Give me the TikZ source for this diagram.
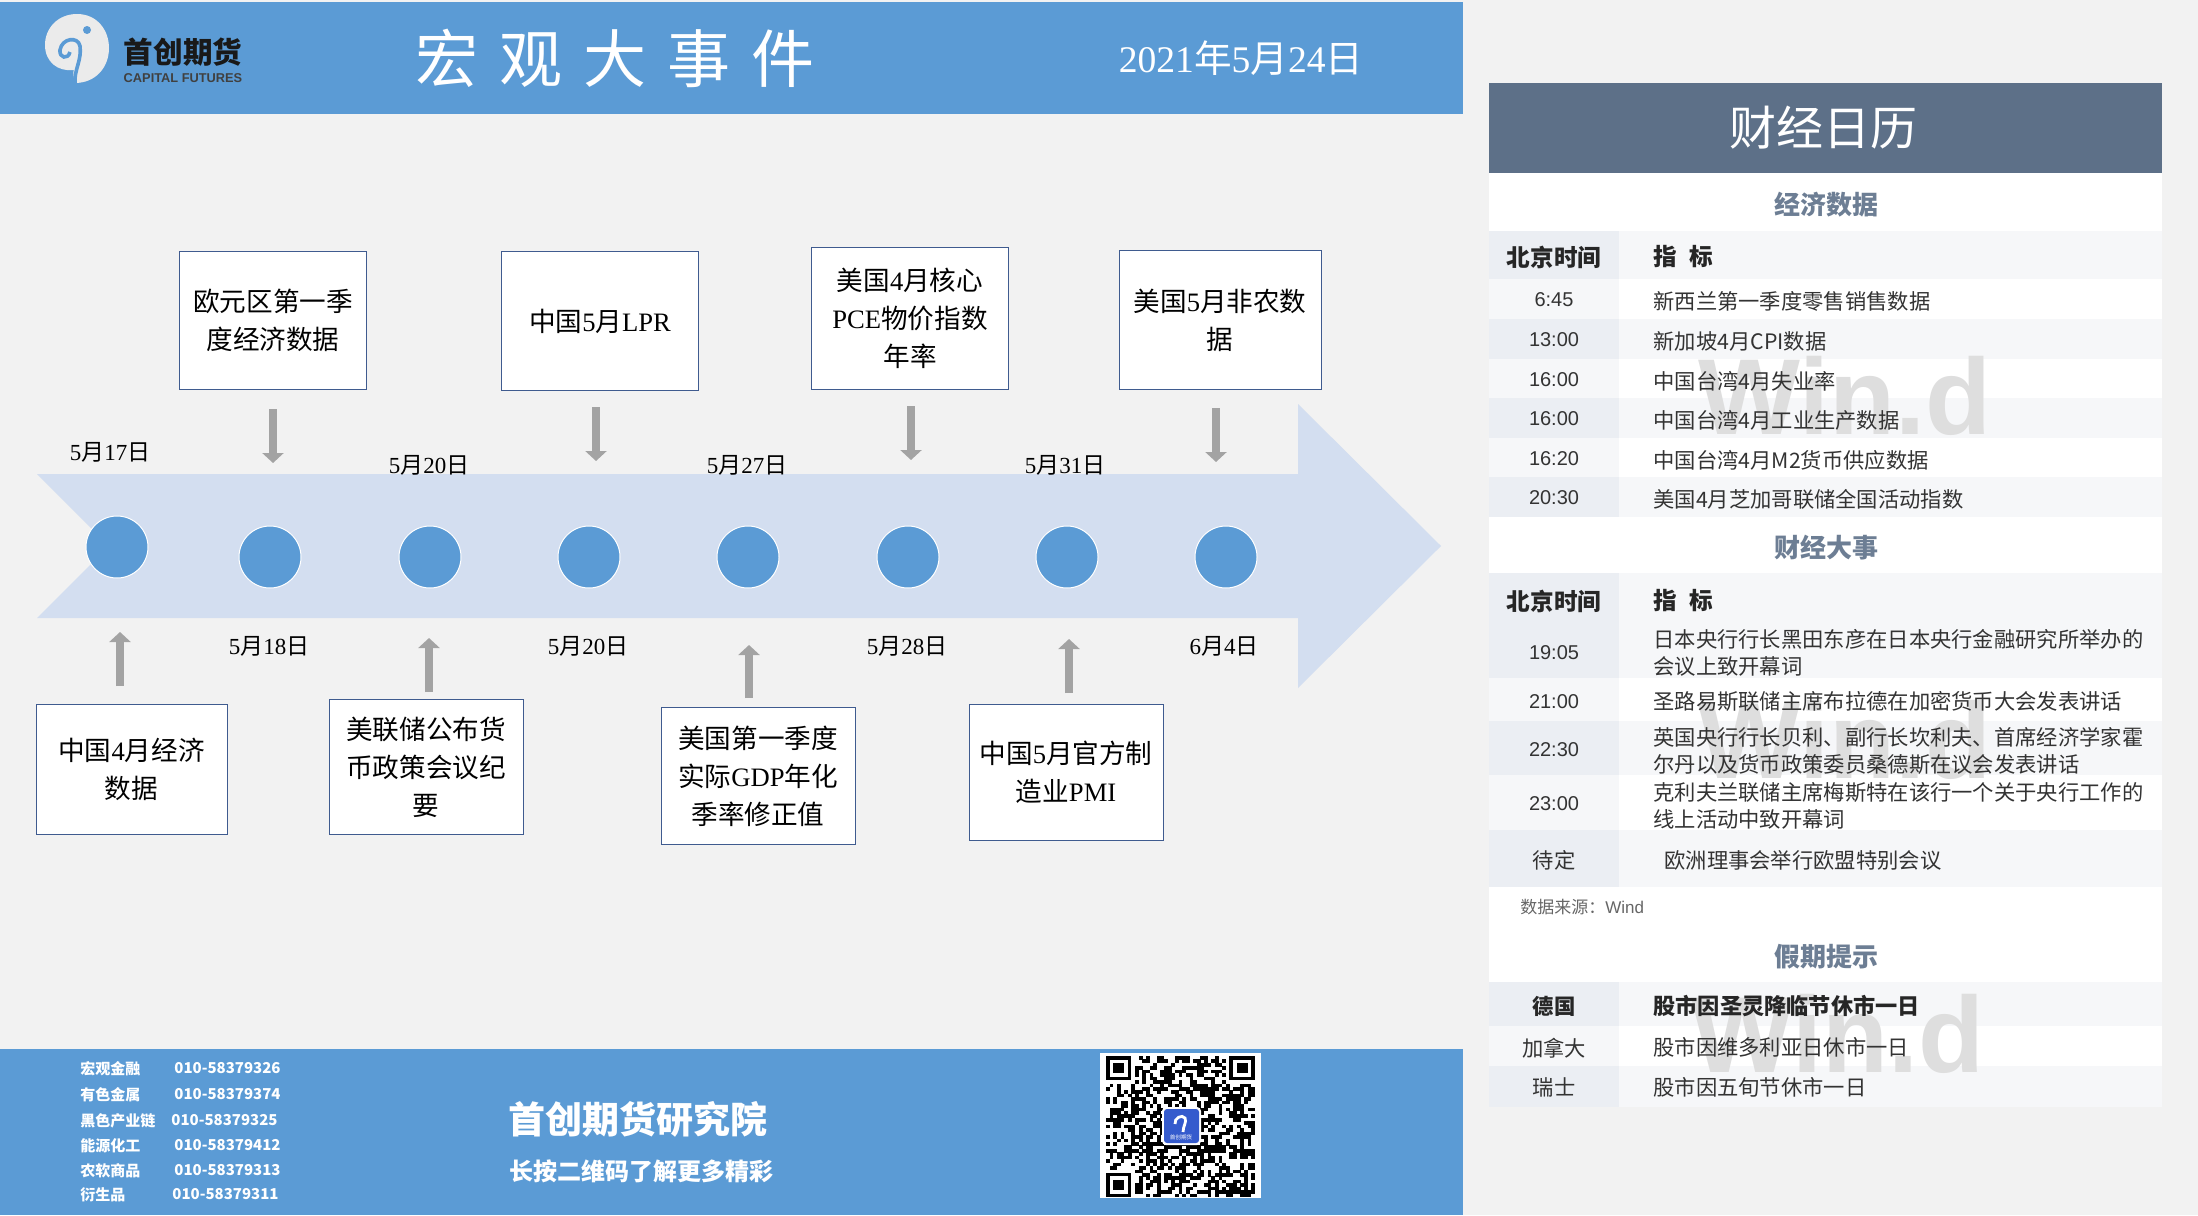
\documentclass[tikz,border=0pt]{standalone}
\usepackage{fontspec}
\usetikzlibrary{arrows.meta}
\setmainfont{Noto Sans CJK SC}
\newfontfamily\lat{Liberation Serif}
\newfontfamily\arial{Liberation Sans}
\newfontfamily\wide[LetterSpace=33]{Noto Sans CJK SC}
\definecolor{bannerblue}{HTML}{5B9BD5}
\definecolor{pagegrey}{HTML}{F2F2F2}
\definecolor{flowblue}{HTML}{D3DEF0}
\definecolor{boxline}{HTML}{3F5B8F}
\definecolor{slate}{HTML}{5D7088}
\definecolor{tintA}{HTML}{EBEEF3}
\definecolor{tintB}{HTML}{F6F7F9}
\definecolor{txt}{HTML}{333333}
\tikzset{
  eventbox/.style={draw=boxline,line width=0.5pt,fill=white,align=center,inner sep=0pt,font=\fontsize{13.3}{19}\selectfont},
  datelabel/.style={inner sep=0pt,font=\fontsize{11.5}{14}\selectfont},
  daydot/.style={circle,fill=bannerblue,draw=white,line width=0.5pt,minimum size=31pt,inner sep=0pt},
  pointer/.style={->,>={Triangle[length=5pt,width=10.5pt]},line width=4pt,draw=black!36,color=black!36},
  phone/.style={anchor=west,inner sep=0pt,text=white,font=\bfseries\fontsize{7.5}{9}\selectfont},
  heading/.style={inner sep=0pt,text=slate!90,font=\bfseries\fontsize{13}{15}\selectfont},
  timecell/.style={inner sep=0pt,text=txt,font=\arial\fontsize{10}{12}\selectfont},
  zhcell/.style={inner sep=0pt,text=txt,font=\fontsize{10.65}{13.5}\selectfont},
  itemcell/.style={anchor=west,align=left,inner sep=0pt,text=txt,font=\fontsize{10.65}{13.5}\selectfont},
  headcell/.style={inner sep=0pt,text=black!85,font=\bfseries\fontsize{11.8}{14}\selectfont},
  stamp/.style={inner sep=0pt,text=black!13,font=\arial\bfseries\fontsize{54}{54}\selectfont},
}
\begin{document}
\begin{tikzpicture}[x=0.5pt,y=-0.5pt]
\useasboundingbox (0,0) rectangle (2198,1215);
\fill[pagegrey] (0,0) rectangle (2198,1215);

% banners
\fill[bannerblue] (0,2) rectangle (1463,114);
\fill[bannerblue] (0,1049) rectangle (1463,1215);

% logo
\fill[black!8] (77,14) .. controls (97,14) and (109,30) .. (109,48) .. controls (109,68) and (95,83) .. (75,83) .. controls (73,76) and (73,72) .. (74,70) .. controls (58,72) and (45,62) .. (45,45) .. controls (45,28) and (58,14) .. (77,14) -- cycle;
\draw[bannerblue,line width=1.8pt] (75,83) .. controls (74,70) and (82,60) .. (80,46) .. controls (78,36) and (62,38) .. (60,50) .. controls (59,58) and (68,60) .. (70,52);
\fill[bannerblue] (87,30) circle (4);
\node[inner sep=0pt,text=black!90,font=\bfseries\fontsize{14.8}{16}\selectfont] (logoname) at (183,52) {首创期货};
\node[inner sep=0pt,text=black!75,font=\arial\bfseries\fontsize{6.4}{7}\selectfont] (logoen) at (183,78) {CAPITAL FUTURES};

\node[inner sep=0pt,text=white,font=\wide\fontsize{31.5}{33}\selectfont] (title) at (615,58) {宏观大事件};
\node[inner sep=0pt,text=white,font=\fontsize{18.8}{22}\selectfont] (today) at (1241,58) {{\lat 2021}年{\lat 5}月{\lat 24}日};

% flow arrow
\fill[flowblue] (37,474) -- (1298,474) -- (1298,404) -- (1441,546) -- (1298,688) -- (1298,618) -- (37,618) -- (109,546) -- cycle;

% days on the flow
\node[daydot] (D1) at (117,547) {};
\node[daydot] (D2) at (270,557) {};
\node[daydot] (D3) at (430,557) {};
\node[daydot] (D4) at (589,557) {};
\node[daydot] (D5) at (748,557) {};
\node[daydot] (D6) at (908,557) {};
\node[daydot] (D7) at (1067,557) {};
\node[daydot] (D8) at (1226,557) {};

\node[datelabel] (L1) at (110,452) {{\lat 5}月{\lat 17}日};
\node[datelabel] (L2) at (269,646) {{\lat 5}月{\lat 18}日};
\node[datelabel] (L3) at (429,465) {{\lat 5}月{\lat 20}日};
\node[datelabel] (L4) at (588,646) {{\lat 5}月{\lat 20}日};
\node[datelabel] (L5) at (747,465) {{\lat 5}月{\lat 27}日};
\node[datelabel] (L6) at (907,646) {{\lat 5}月{\lat 28}日};
\node[datelabel] (L7) at (1065,465) {{\lat 5}月{\lat 31}日};
\node[datelabel] (L8) at (1224,646) {{\lat 6}月{\lat 4}日};

% event boxes
\node[eventbox,minimum width=93.5pt,minimum height=69pt] (B1) at (273,320) {欧元区第一季\\度经济数据};
\node[eventbox,minimum width=98.5pt,minimum height=69.5pt] (B2) at (600,321) {中国{\lat 5}月{\lat LPR}};
\node[eventbox,minimum width=98.5pt,minimum height=71pt] (B3) at (910,318) {美国{\lat 4}月核心\\{\lat PCE}物价指数\\年率};
\node[eventbox,minimum width=101pt,minimum height=69.5pt] (B4) at (1220,320) {美国{\lat 5}月非农数\\据};
\node[eventbox,minimum width=95.5pt,minimum height=65pt] (B5) at (131.5,769) {中国{\lat 4}月经济\\数据};
\node[eventbox,minimum width=97pt,minimum height=67.5pt] (B6) at (426,767) {美联储公布货\\币政策会议纪\\要};
\node[eventbox,minimum width=97pt,minimum height=68.5pt] (B7) at (758,776) {美国第一季度\\实际{\lat GDP}年化\\季率修正值};
\node[eventbox,minimum width=97pt,minimum height=68pt] (B8) at (1066,772) {中国{\lat 5}月官方制\\造业{\lat PMI}};

% pointers between boxes and flow
\coordinate (P1a) at (273,409); \coordinate (P1b) at (273,463);
\coordinate (P2a) at (596,407); \coordinate (P2b) at (596,461);
\coordinate (P3a) at (911,406); \coordinate (P3b) at (911,460);
\coordinate (P4a) at (1216,408); \coordinate (P4b) at (1216,462);
\coordinate (P5a) at (120,686); \coordinate (P5b) at (120,632);
\coordinate (P6a) at (429,692); \coordinate (P6b) at (429,638);
\coordinate (P7a) at (749,698); \coordinate (P7b) at (749,645);
\coordinate (P8a) at (1069,693); \coordinate (P8b) at (1069,639);
\foreach \p in {1,...,8} \draw[pointer] (P\p a) -- (P\p b);

% footer
\node[phone] (C1) at (80,1069) {宏观金融};
\node[phone] (C2) at (80,1095) {有色金属};
\node[phone] (C3) at (80,1121) {黑色产业链};
\node[phone] (C4) at (80,1146) {能源化工};
\node[phone] (C5) at (80,1171) {农软商品};
\node[phone] (C6) at (80,1195) {衍生品};
\node[phone] (N1) at (174,1068) {010-58379326};
\node[phone] (N2) at (174,1094) {010-58379374};
\node[phone] (N3) at (171,1120) {010-58379325};
\node[phone] (N4) at (174,1145) {010-58379412};
\node[phone] (N5) at (174,1170) {010-58379313};
\node[phone] (N6) at (172,1194) {010-58379311};
\node[anchor=west,inner sep=0pt,text=white,font=\bfseries\fontsize{18.5}{21}\selectfont] (inst) at (508,1119) {首创期货研究院};
\node[anchor=west,inner sep=0pt,text=white,font=\bfseries\fontsize{12}{14}\selectfont] (scan) at (509,1171) {长按二维码了解更多精彩};

% qr code
\fill[white] (1100,1053) rectangle (1261,1198);
\pgfmathsetseed{41}
\begin{scope}[shift={(1106,1056)},x=1.815pt,y=-1.72pt]
\foreach \i in {0,...,40} \foreach \j in {0,...,40} {
  \pgfmathparse{int(rnd<0.5 || (\i<8 && \j<8) || (\i>32 && \j<8) || (\i<8 && \j>32) || (\i>15 && \i<26 && \j>14 && \j<25))}
  \ifnum\pgfmathresult=0 \fill[black] (\i,\j) rectangle ++(1.05,1.05); \fi
}
\foreach \fx/\fy in {0/0,34/0,0/34} {
  \draw[black,line width=1.8pt] (\fx+0.5,\fy+0.5) rectangle ++(6,6);
  \fill[black] (\fx+2,\fy+2) rectangle ++(3,3);
}
\end{scope}
\fill[white,rounded corners=2pt] (1162,1107) rectangle (1201,1145);
\fill[blue!35!bannerblue!90!black,rounded corners=1.5pt] (1164,1109) rectangle (1199,1143);
\draw[white,line width=1.4pt] (1183,1132) .. controls (1183,1126) and (1187,1122) .. (1185,1118) .. controls (1182,1114) and (1174,1118) .. (1175,1124);
\node[inner sep=0pt,text=white,font=\fontsize{2.8}{3}\selectfont] (qrlogo) at (1181,1137) {首创期货};

% calendar panel
\fill[white] (1488.5,173) rectangle (2162,1107);
\fill[slate] (1488.5,83) rectangle (2162,173);
\node[inner sep=0pt,text=white,font=\fontsize{23.5}{26}\selectfont] (calhead) at (1823,128) {财经日历};

% table stripes: top, bottom, first column colour, second column colour
\foreach \ya/\yb/\ca/\cb in {231/279.3/tintA/tintB,279.3/319/tintB/white,319/358.7/tintA/tintB,358.7/398.3/tintB/white,398.3/437.7/tintA/tintB,437.7/477.3/tintB/white,477.3/516.7/tintA/tintB,573/678.3/tintA/tintB,678.3/721/tintB/white,721/775/tintA/tintB,775/830/tintB/white,830/886.7/tintA/tintB,981.7/1026/tintA/tintB,1026/1065.7/tintB/white,1065.7/1106.7/tintA/tintB} {
  \fill[\ca] (1488.5,\ya) rectangle (1619,\yb);
  \fill[\cb] (1619,\ya) rectangle (2162,\yb);
}

\node[stamp] (W1) at (1845,396) {Win.d};
\node[stamp] (W2) at (1845,740) {Win.d};
\node[stamp] (W3) at (1838,1034) {Win.d};

% economic data
\node[heading] (H1) at (1826,205) {经济数据};
\node[headcell] (T1) at (1554,257) {北京时间};
\node[headcell,anchor=west] (I1) at (1653,257) {指\hspace{6pt}标};
\node[timecell] (T2) at (1554,300) {6:45};
\node[timecell] (T3) at (1554,340) {13:00};
\node[timecell] (T4) at (1554,380) {16:00};
\node[timecell] (T5) at (1554,419) {16:00};
\node[timecell] (T6) at (1554,459) {16:20};
\node[timecell] (T7) at (1554,498) {20:30};
\node[itemcell] (I2) at (1653,301.5) {新西兰第一季度零售销售数据};
\node[itemcell] (I3) at (1653,341.5) {新加坡{4}月CPI数据};
\node[itemcell] (I4) at (1653,381) {中国台湾{4}月失业率};
\node[itemcell] (I5) at (1653,420.5) {中国台湾{4}月工业生产数据};
\node[itemcell] (I6) at (1653,460) {中国台湾{4}月M2货币供应数据};
\node[itemcell] (I7) at (1653,499.5) {美国{4}月芝加哥联储全国活动指数};

% financial events
\node[heading] (H2) at (1826,548) {财经大事};
\node[headcell] (E1) at (1554,601) {北京时间};
\node[headcell,anchor=west] (F1) at (1653,601) {指\hspace{6pt}标};
\node[timecell] (E2) at (1554,653) {19:05};
\node[timecell] (E3) at (1554,702) {21:00};
\node[timecell] (E4) at (1554,750) {22:30};
\node[timecell] (E5) at (1554,804) {23:00};
\node[zhcell] (E6) at (1554,860) {待定};
\node[itemcell] (F2) at (1653,653) {日本央行行长黑田东彦在日本央行金融研究所举办的\\会议上致开幕词};
\node[itemcell] (F3) at (1653,701.5) {圣路易斯联储主席布拉德在加密货币大会发表讲话};
\node[itemcell] (F4) at (1653,750.5) {英国央行行长贝利、副行长坎利夫、首席经济学家霍\\尔丹以及货币政策委员桑德斯在议会发表讲话};
\node[itemcell] (F5) at (1653,805.5) {克利夫兰联储主席梅斯特在该行一个关于央行工作的\\线上活动中致开幕词};
\node[itemcell] (F6) at (1664,860) {欧洲理事会举行欧盟特别会议};
\node[anchor=west,inner sep=0pt,text=black!60,font=\fontsize{8.5}{10}\selectfont] (source) at (1520,907) {数据来源：{\arial Wind}};

% holidays
\node[heading] (H3) at (1826,957) {假期提示};
\node[headcell,font=\bfseries\fontsize{10.65}{13}\selectfont] (G1) at (1554,1006) {德国};
\node[zhcell] (G2) at (1554,1047.7) {加拿大};
\node[zhcell] (G3) at (1554,1087) {瑞士};
\node[itemcell,text=black!85,font=\bfseries\fontsize{11.1}{13}\selectfont] (J1) at (1653,1006) {股市因圣灵降临节休市一日};
\node[itemcell] (J2) at (1653,1047.7) {股市因维多利亚日休市一日};
\node[itemcell] (J3) at (1653,1087) {股市因五旬节休市一日};
\end{tikzpicture}
\end{document}
